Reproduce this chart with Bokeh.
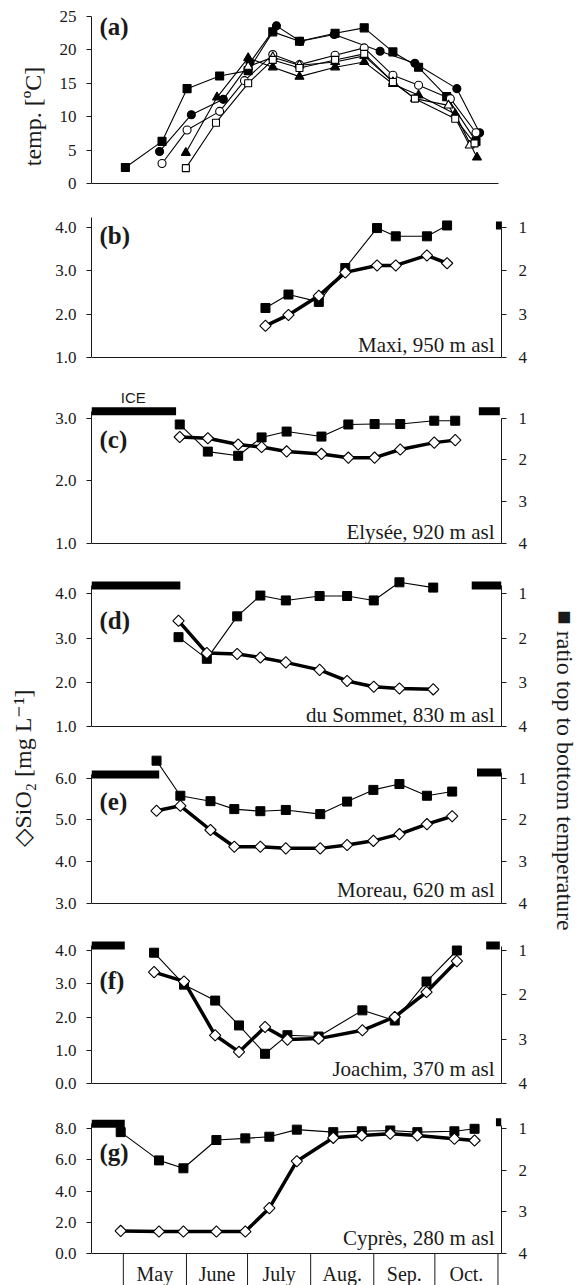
import numpy as np
from bokeh.plotting import figure
from bokeh.layouts import column, row
from bokeh.models import Range1d, LinearAxis, FixedTicker, PrintfTickFormatter
from bokeh.embed import file_html
from bokeh.resources import INLINE
from bokeh.core.properties import value

SERIF = "Liberation Serif"
SANS = "Liberation Sans"

# ---------------- data (x = day of year) ----------------
# (a) water temperature [oC]
a_fsq_day = [122, 140, 152.3, 168.3, 182.3, 194.4, 207.5, 225, 239.3, 253.4, 266, 279.8, 294.2]
a_fsq_t = [2.4, 6.3, 14.2, 16.1, 16.9, 22.7, 21.3, 22.5, 23.3, 19.7, 17.4, 13.0, 6.3]
a_fci_day = [138.8, 154.4, 170.1, 183.2, 196.2, 207.9, 224.6, 247.1, 264.2, 284.8, 296.0]
a_fci_t = [4.8, 10.3, 12.6, 18.1, 23.6, 21.3, 22.3, 19.8, 18.0, 14.2, 7.6]
a_oci_day = [140, 152.3, 168.3, 180.5, 194.4, 207.5, 225, 239.3, 253.4, 266, 281.6, 294.2]
a_oci_t = [3.0, 8.0, 10.8, 15.4, 19.3, 17.8, 19.2, 20.3, 16.2, 14.7, 12.7, 7.6]
a_ftr_day = [151.7, 167, 182.3, 194.4, 207.5, 225, 239.3, 253.4, 266, 284, 294.7]
a_ftr_t = [4.6, 12.9, 18.8, 17.4, 16.0, 17.4, 18.2, 14.9, 13.2, 10.4, 3.9]
a_otr_day = [182.3, 194.4, 207.5, 225, 239.3, 253.4, 264.2, 280.7, 291.1]
a_otr_t = [17.5, 18.9, 17.7, 18.2, 19.1, 15.2, 12.7, 11.7, 5.7]
a_osq_day = [151.7, 166.5, 182.3, 194.4, 207.5, 225, 239.3, 253.4, 264.2, 284, 293.5]
a_osq_t = [2.3, 9.1, 15.0, 18.5, 17.3, 18.5, 19.4, 15.2, 12.7, 9.7, 6.0]

# (b) Maxi
b_day = [190.8, 202.1, 217.0, 230.0, 245.6, 254.8, 270.1, 280.0]
b_sio2 = [1.73, 1.98, 2.42, 2.96, 3.12, 3.12, 3.35, 3.17]
b_ratio = [2.86, 2.55, 2.72, 1.94, 1.02, 1.21, 1.21, 0.96]
b_ice_start = [304.0]
b_ice_end = [306.7]

# (c) Elysee
c_day = [148.7, 162.5, 177.4, 188.9, 201.2, 218.3, 231.5, 244.4, 257.0, 273.7, 284.0]
c_sio2 = [2.70, 2.68, 2.58, 2.54, 2.47, 2.43, 2.37, 2.37, 2.50, 2.61, 2.65]
c_ratio = [1.15, 1.80, 1.90, 1.46, 1.32, 1.44, 1.15, 1.14, 1.14, 1.06, 1.06]
c_ice_start = [105.36, 295.6]
c_ice_end = [146.9, 305.9]

# (d) du Sommet
d_day = [148.1, 162.0, 176.9, 188.3, 200.8, 217.4, 230.9, 244.0, 256.6, 273.2]
d_sio2 = [3.39, 2.66, 2.64, 2.56, 2.45, 2.28, 2.03, 1.90, 1.86, 1.84]
d_ratio = [1.98, 2.47, 1.51, 1.04, 1.15, 1.05, 1.05, 1.15, 0.74, 0.86]
d_ice_start = [105.36, 292.1]
d_ice_end = [149.0, 306.7]

# (e) Moreau
e_day = [137.3, 149.0, 163.8, 175.5, 188.3, 200.8, 217.7, 230.9, 243.8, 256.6, 270.1, 282.5]
e_sio2 = [5.22, 5.34, 4.76, 4.36, 4.36, 4.32, 4.32, 4.40, 4.50, 4.66, 4.90, 5.09]
e_ratio = [0.58, 1.42, 1.55, 1.74, 1.79, 1.76, 1.86, 1.56, 1.28, 1.14, 1.42, 1.32]
e_ice_start = [105.36, 294.7]
e_ice_end = [138.6, 306.7]

# (f) Joachim
f_day = [136.1, 150.8, 166.1, 177.8, 190.6, 201.6, 216.9, 238.4, 254.3, 269.9, 284.8]
f_sio2 = [3.35, 3.07, 1.45, 0.95, 1.70, 1.32, 1.35, 1.60, 2.00, 2.75, 3.68]
f_ratio = [1.05, 1.77, 2.13, 2.69, 3.33, 2.91, 2.94, 2.35, 2.58, 1.70, 1.00]
f_ice_start = [105.36, 299.2]
f_ice_end = [121.7, 305.9]

# (g) Cypres
g_day = [119.7, 138.5, 150.5, 166.7, 180.9, 192.7, 206.2, 224.1, 238.1, 252.1, 265.4, 283.6, 293.5]
g_sio2 = [1.45, 1.41, 1.41, 1.41, 1.41, 2.91, 5.92, 7.42, 7.57, 7.68, 7.57, 7.36, 7.25]
g_ratio = [1.08, 1.76, 1.95, 1.27, 1.23, 1.19, 1.02, 1.08, 1.06, 1.04, 1.08, 1.06, 1.00]
g_ice_start = [105.36, 304.0]
g_ice_end = [121.7, 306.7]

months = ["May", "June", "July", "Aug.", "Sep.", "Oct."]
month_edges = [121, 152, 182, 213, 244, 274, 305]

left_ticks_b = [1.0, 2.0, 3.0, 4.0]
left_ticks_c = [1.0, 2.0, 3.0]
left_ticks_d = [1.0, 2.0, 3.0, 4.0]
left_ticks_e = [3.0, 4.0, 5.0, 6.0]
left_ticks_f = [0.0, 1.0, 2.0, 3.0, 4.0]
left_ticks_g = [0.0, 2.0, 4.0, 6.0, 8.0]
right_ticks = [1, 2, 3, 4]
temp_ticks = [0, 5, 10, 15, 20, 25]

# ---------------- layout helpers ----------------
PXD = 2.046
def day_at(px):
    return 121 + (px - 123) / PXD

FRAME_L, FRAME_R = 91, 503
XR = (day_at(FRAME_L), day_at(FRAME_R))
INK = "#1a1a1a"
LW, CW, RW, TOTAL_H = 48, 482, 47, 1285
BL = FRAME_L - LW
BR = CW - BL - (FRAME_R - FRAME_L)


def mid_from_baseline(baseline_px, size_px):
    # vertical middle of the em box for a text whose baseline is at baseline_px
    return baseline_px - 0.34 * size_px


def style_axis(ax, standoff=10):
    ax.axis_line_color = INK
    ax.major_tick_line_color = INK
    ax.major_tick_out = 5
    ax.major_tick_in = 0
    ax.minor_tick_line_color = None
    ax.major_label_text_font = SERIF
    ax.major_label_text_font_size = "17px"
    ax.major_label_text_color = INK
    ax.major_label_standoff = standoff


def bare_fig(top, bottom, yr):
    p = figure(width=CW, height=bottom - top, x_range=Range1d(*XR), y_range=Range1d(*yr),
               output_backend="svg", toolbar_location=None,
               min_border_left=BL, min_border_right=BR, min_border_top=0, min_border_bottom=0)
    p.grid.visible = False
    p.outline_line_color = None
    p.xaxis.visible = False
    return p


# ---------------- panel (a) ----------------
va = lambda y: (183 - y) / (167 / 25)
pa = bare_fig(0, 196, (va(196), va(0)))
ya = pa.yaxis[0]
style_axis(ya)
ya.ticker = FixedTicker(ticks=temp_ticks)
ya.bounds = (0, 25)
pa.segment(x0=[XR[0]], y0=[0], x1=[day_at(500)], y1=[0], line_color=INK, line_width=1)

series_a = [
    (a_fsq_day, a_fsq_t, "square", 8, "black"),
    (a_fci_day, a_fci_t, "circle", 8, "black"),
    (a_oci_day, a_oci_t, "circle", 8, "white"),
    (a_ftr_day, a_ftr_t, "triangle", 9, "black"),
    (a_otr_day, a_otr_t, "triangle", 9, "white"),
    (a_osq_day, a_osq_t, "square", 7, "white"),
]
for d, t, m, s, fc in series_a:
    pa.line(d, t, line_color="black", line_width=1.1)
for d, t, m, s, fc in series_a:
    pa.scatter(d, t, marker=m, size=s, fill_color=fc, line_color="black", line_width=1.1)
pa.text(x=[day_at(99)], y=[va(26)], text=["(a)"], text_font=value(SERIF),
        text_font_style="bold", text_font_size="25px", text_baseline="middle",
        text_align="left", text_color=INK)

# ---------------- panels (b)-(g) ----------------
specs = [
    dict(day=b_day, sio2=b_sio2, ratio=b_ratio, ice0=b_ice_start, ice1=b_ice_end, ice_y=[225],
         ticks=left_ticks_b, name="Maxi, 950 m asl", letter="(b)", ft=196, figb=367,
         vt=4.0, yt=226.7, vb=1.0, yb=357.0, lax_top=216.7, rax_top=221, let_y=235, name_y=352),
    dict(day=c_day, sio2=c_sio2, ratio=c_ratio, ice0=c_ice_start, ice1=c_ice_end, ice_y=[410.7, 410.7],
         ticks=left_ticks_c, name="Elysée, 920 m asl", letter="(c)", ft=367, figb=553,
         vt=3.0, yt=417.7, vb=1.0, yb=543.0, lax_top=411, rax_top=417.7, let_y=439, name_y=539, ice=True),
    dict(day=d_day, sio2=d_sio2, ratio=d_ratio, ice0=d_ice_start, ice1=d_ice_end, ice_y=[585, 585],
         ticks=left_ticks_d, name="du Sommet, 830 m asl", letter="(d)", ft=553, figb=736,
         vt=4.0, yt=593.3, vb=1.0, yb=726.0, lax_top=585, rax_top=585, let_y=620, name_y=722),
    dict(day=e_day, sio2=e_sio2, ratio=e_ratio, ice0=e_ice_start, ice1=e_ice_end, ice_y=[774, 772],
         ticks=left_ticks_e, name="Moreau, 620 m asl", letter="(e)", ft=736, figb=913,
         vt=6.0, yt=777.7, vb=3.0, yb=903.0, lax_top=774, rax_top=772, let_y=801, name_y=897),
    dict(day=f_day, sio2=f_sio2, ratio=f_ratio, ice0=f_ice_start, ice1=f_ice_end, ice_y=[945, 945],
         ticks=left_ticks_f, name="Joachim, 370 m asl", letter="(f)", ft=913, figb=1093,
         vt=4.0, yt=950.0, vb=0.0, yb=1083.0, lax_top=945, rax_top=946, let_y=980, name_y=1076),
    dict(day=g_day, sio2=g_sio2, ratio=g_ratio, ice0=g_ice_start, ice1=g_ice_end, ice_y=[1123.3, 1121.7],
         ticks=left_ticks_g, name="Cyprès, 280 m asl", letter="(g)", ft=1093, figb=TOTAL_H,
         vt=8.0, yt=1128.3, vb=0.0, yb=1253.0, lax_top=1123, rax_top=1125, let_y=1152, name_y=1245,
         months=True),
]

panels = []
for sp in specs:
    ft, figb = sp["ft"], sp["figb"]
    vt, yt, vb, yb = sp["vt"], sp["yt"], sp["vb"], sp["yb"]
    s = (yb - yt) / (vt - vb)
    v = (lambda y, vb=vb, yb=yb, s=s: vb + (yb - y) / s)
    r = (lambda y, yt=yt, yb=yb: 1 + (y - yt) / (yb - yt) * 3)
    p = bare_fig(ft, figb, (v(figb), v(ft)))
    p.extra_y_ranges = {"ratio": Range1d(r(figb), r(ft))}
    ly = p.yaxis[0]
    style_axis(ly)
    ly.ticker = FixedTicker(ticks=sp["ticks"])
    ly.formatter = PrintfTickFormatter(format="%.1f")
    ly.bounds = (vb, v(sp["lax_top"]))
    ry = LinearAxis(y_range_name="ratio", ticker=FixedTicker(ticks=right_ticks))
    style_axis(ry, standoff=12)
    ry.bounds = (r(sp["rax_top"]), 4)
    p.add_layout(ry, "right")

    # bottom axis line
    p.segment(x0=[XR[0]], y0=[vb], x1=[XR[1]], y1=[vb], line_color=INK, line_width=1)

    if sp.get("months"):
        p.segment(x0=month_edges, y0=[vb] * len(month_edges), x1=month_edges,
                  y1=[v(figb)] * len(month_edges), line_color=INK, line_width=1)
        mids = [(a + b) / 2 for a, b in zip(month_edges[:-1], month_edges[1:])]
        p.text(x=mids, y=[v(mid_from_baseline(1280, 20))] * len(mids), text=months,
               text_font=value(SERIF), text_font_size="20px", text_align="center",
               text_baseline="middle", text_color=INK)

    # ice cover bars
    p.segment(x0=sp["ice0"], y0=[v(y) for y in sp["ice_y"]], x1=sp["ice1"],
              y1=[v(y) for y in sp["ice_y"]], line_color="black", line_width=8, line_cap="butt")
    if sp.get("ice"):
        p.text(x=[day_at(133)], y=[v(mid_from_baseline(402, 15))], text=["ICE"],
               text_font=value(SANS), text_font_size="15px", text_align="center",
               text_baseline="middle", text_color=INK)

    p.line(sp["day"], sp["ratio"], y_range_name="ratio", line_color="black", line_width=1.1)
    p.line(sp["day"], sp["sio2"], line_color="black", line_width=3.5)
    p.scatter(sp["day"], sp["ratio"], y_range_name="ratio", marker="square", size=9,
              fill_color="black", line_color="black")
    p.scatter(sp["day"], sp["sio2"], marker="square", angle=np.pi / 4, size=8,
              fill_color="white", line_color="black", line_width=1.1)

    p.text(x=[day_at(99)], y=[v(sp["let_y"])], text=[sp["letter"]], text_font=value(SERIF),
           text_font_style="bold", text_font_size="25px", text_baseline="middle",
           text_align="left", text_color=INK)
    p.text(x=[day_at(496)], y=[v(mid_from_baseline(sp["name_y"], 21))], text=[sp["name"]],
           text_font=value(SERIF), text_font_size="21px", text_align="right",
           text_baseline="middle", text_color=INK)
    panels.append(p)


def label_fig(w, items):
    f = figure(width=w, height=TOTAL_H, x_range=Range1d(0, w), y_range=Range1d(0, TOTAL_H),
               output_backend="svg", toolbar_location=None, min_border=0)
    f.xaxis.visible = False
    f.yaxis.visible = False
    f.grid.visible = False
    f.outline_line_color = None
    for x, y_top, text, angle in items:
        f.text(x=[x], y=[TOTAL_H - y_top], text=[text], angle=angle, text_align="center",
               text_baseline="middle", text_font=value(SERIF), text_font_size="24px",
               text_color=INK)
    return f


left_fig = label_fig(LW, [(32, 116, "temp. [ºC]", np.pi / 2),
                          (22, 770, "◇SiO₂ [mg L⁻¹]", np.pi / 2)])
right_fig = label_fig(RW, [(564 - LW - CW, 770, "■ ratio top to bottom temperature", -np.pi / 2)])

layout = row(left_fig, column(pa, *panels), right_fig)
open("out.html", "w").write(file_html(layout, INLINE))
